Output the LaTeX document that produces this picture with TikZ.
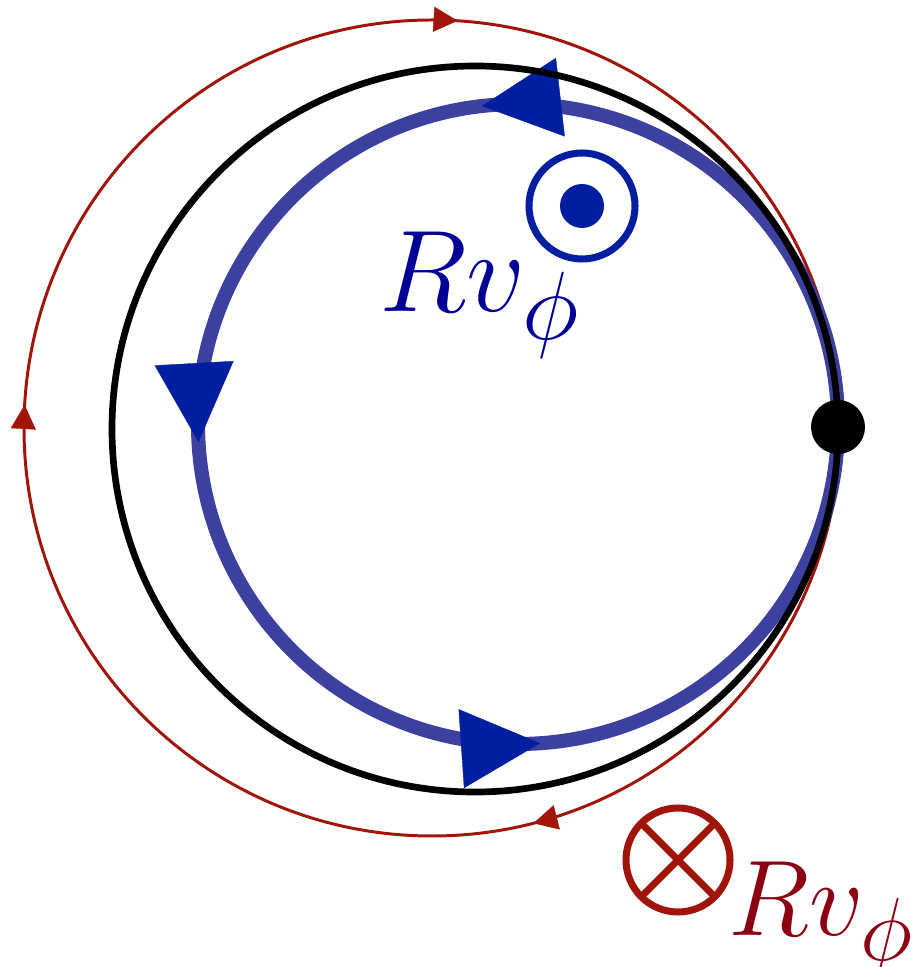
\documentclass[tikz,border=0pt]{standalone}
\usepackage{graphicx}
\usepackage{xcolor}
\usetikzlibrary{arrows.meta,decorations.markings}
\definecolor{loopblue}{RGB}{60,65,160}
\definecolor{headblue}{RGB}{0,30,160}
\definecolor{labelblue}{RGB}{0,0,150}
\definecolor{loopred}{RGB}{160,20,10}
\definecolor{labelred}{RGB}{140,0,20}

\tikzset{
  bigtip/.style={headblue,line width=0.1pt},
  smalltip/.style={loopred,line width=0.1pt},
  symbolring/.style={circle,line width=2pt,inner sep=0pt,outer sep=0pt},
  bigmath/.style={anchor=base}
}

\begin{document}
\begin{tikzpicture}
  \useasboundingbox (0,0) rectangle (9.16,9.67);
  % outer red loop, clockwise
  \draw[loopred,line width=0.85pt,postaction={decorate},decoration={markings,
    mark=at position 0.210 with {\arrow[smalltip]{Triangle[length=2.4mm,width=2.5mm]}},
    mark=at position 0.509 with {\arrow[smalltip]{Triangle[length=2.4mm,width=2.5mm]}},
    mark=at position 0.760 with {\arrow[smalltip]{Triangle[length=2.4mm,width=2.5mm]}}}]
    (8.40,5.39) arc[start angle=0,end angle=-360,radius=4.08];
  % inner blue loop, counter-clockwise
  \draw[loopblue,line width=4pt,postaction={decorate},decoration={markings,
    mark=at position 0.268 with {\arrow[bigtip]{Triangle[length=7.9mm,width=7.9mm]}},
    mark=at position 0.509 with {\arrow[bigtip]{Triangle[length=7.9mm,width=7.9mm]}},
    mark=at position 0.761 with {\arrow[bigtip]{Triangle[length=7.9mm,width=7.9mm]}}}]
    (5.18,5.43) circle (3.20);
  % black circle and contact point
  \draw[black,line width=1.9pt] (4.75,5.38) circle (3.63);
  \node[circle,fill=black,minimum size=5.4mm,inner sep=0pt] (contact) at (8.38,5.40) {};

  % out of the page
  \node[symbolring,draw=headblue,minimum size=10.6mm] (outof) at (5.82,7.61) {};
  \fill[headblue] (outof.center) circle (0.22);
  \node[bigmath,labelblue] (bluelabel) at (4.80,6.55) {\scalebox{1.33}{\Huge$Rv_\phi$}};

  % into the page
  \node[symbolring,draw=loopred,minimum size=10.4mm] (into) at (6.78,1.07) {};
  \draw[loopred,line width=2pt] (into.north west) -- (into.south east)
    (into.north east) -- (into.south west);
  \node[bigmath,labelred] (redlabel) at (8.22,0.32) {\scalebox{1.23}{\Huge$Rv_\phi$}};
\end{tikzpicture}
\end{document}
